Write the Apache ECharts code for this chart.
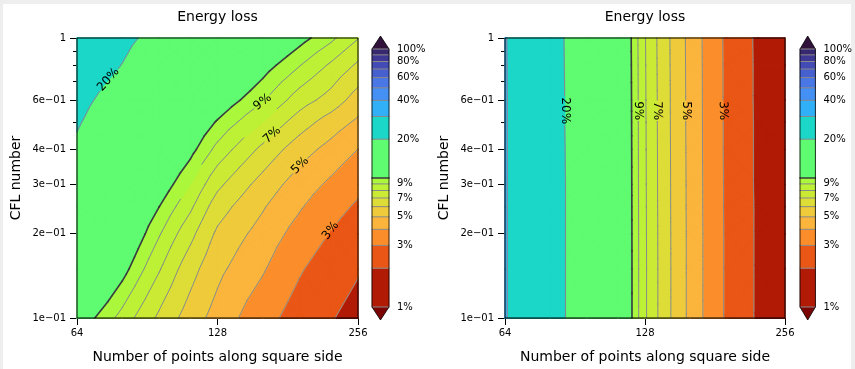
<!DOCTYPE html>
<html>
<head>
<meta charset="utf-8">
<title>Energy loss</title>
<script src="https://cdn.jsdelivr.net/npm/echarts@6.0.0/dist/echarts.min.js"></script>
<style>
  html, body { margin: 0; padding: 0; background: #eeeeee; }
  #paper { position: absolute; left: 3px; top: 4px; width: 848px; height: 365px; background: #ffffff; }
  #main { position: absolute; left: 0; top: 0; width: 855px; height: 369px; }
</style>
</head>
<body>
<div id="paper"></div>
<div id="main"></div>
<script>
// simulation grid: points along square side (x) and CFL number (y)
var pointsPerSide = [64, 80, 96, 112, 128, 160, 192, 224, 256];
var cflNumbers = [0.1, 0.15, 0.2, 0.25, 0.3, 0.4, 0.5, 0.6, 0.8, 1.0];

// energy loss in %, one row per CFL number (lowest CFL first)
var lossLeft = [
  [11.0, 8.64, 6.81, 5.54, 4.62, 3.39, 2.58, 2.06, 1.70],
  [13.8, 10.5, 8.10, 6.40, 5.27, 4.11, 3.10, 2.52, 2.08],
  [15.2, 11.7, 9.10, 7.30, 5.82, 4.63, 3.63, 2.95, 2.49],
  [16.0, 12.4, 10.01, 8.20, 6.49, 5.10, 4.10, 3.37, 2.87],
  [17.4, 13.4, 10.9, 9.00, 7.25, 5.62, 4.54, 3.82, 3.24],
  [19.1, 15.0, 12.3, 10.4, 8.69, 6.75, 5.46, 4.67, 3.99],
  [20.5, 16.1, 13.3, 11.3, 9.87, 8.00, 6.50, 5.55, 4.82],
  [21.7, 17.4, 14.6, 12.5, 11.0, 9.10, 7.48, 6.60, 5.56],
  [23.8, 19.9, 16.6, 14.5, 12.9, 10.6, 9.05, 7.85, 6.84],
  [25.5, 21.3, 18.4, 16.3, 14.6, 12.2, 10.45, 9.25, 8.05]
];
var lossRight = [
  [30.5, 22.1, 17.4, 12.45, 8.15, 4.78, 2.87, 1.89, 1.35],
  [30.5, 22.1, 17.4, 12.45, 8.15, 4.78, 2.87, 1.89, 1.35],
  [30.5, 22.1, 17.4, 12.44, 8.14, 4.78, 2.87, 1.89, 1.35],
  [30.5, 22.1, 17.4, 12.43, 8.13, 4.77, 2.86, 1.89, 1.35],
  [30.5, 22.1, 17.4, 12.42, 8.12, 4.77, 2.86, 1.88, 1.35],
  [30.5, 22.05, 17.35, 12.4, 8.11, 4.76, 2.85, 1.88, 1.34],
  [30.5, 22.0, 17.3, 12.38, 8.10, 4.75, 2.85, 1.88, 1.34],
  [30.5, 22.0, 17.3, 12.36, 8.09, 4.75, 2.84, 1.87, 1.34],
  [30.45, 21.95, 17.25, 12.33, 8.07, 4.74, 2.84, 1.87, 1.34],
  [30.4, 21.9, 17.2, 12.3, 8.05, 4.73, 2.83, 1.86, 1.33]
];

// contour levels (%) and band colours, lowest band (below 1%) first
var levels = [1, 2, 3, 4, 5, 6, 7, 8, 9, 10, 20, 30, 40, 50, 60, 70, 80, 90, 100];
var bandColors = ['#7a0403', '#b11b05', '#ea5615', '#fb8e2b', '#fbb43c', '#efca3a', '#dedd38',
  '#cbea34', '#bcf136', '#aaf73c', '#5ffb70', '#1bd7c8', '#31b0f7', '#4490f5', '#4a77e6',
  '#4760d0', '#434bb4', '#3e3894', '#382870', '#30123b'];
var boldLevel = 10;
var tickPercents = [1, 3, 5, 7, 9, 20, 40, 60, 80, 100];
var xTicks = [64, 128, 256];
var yMajorTicks = [0.1, 0.2, 0.3, 0.4, 0.6, 1];
var yMinorTicks = [0.5, 0.7, 0.8, 0.9];

// inline contour labels: level and the CFL number it sits at
var leftLabelLevels = [20, 9, 7, 5, 3];
var leftLabelCfl = [0.71, 0.59, 0.45, 0.35, 0.205];
var rightLabelLevels = [20, 9, 7, 5, 3];
var rightLabelCfl = [0.55, 0.55, 0.55, 0.55, 0.55];

var FONT = '"DejaVu Sans", sans-serif';
var plotTop = 38, plotH = 280;
var leftPlot = { left: 77, width: 281 };
var rightPlot = { left: 505, width: 280 };
var cbarTop = 49, cbarH = 258, cbarW = 17;

function clip(poly, t, keepAbove) {
  var out = [];
  for (var i = 0; i < poly.length; i++) {
    var a = poly[i], b = poly[(i + 1) % poly.length];
    var ina = keepAbove ? a.s >= t : a.s <= t;
    var inb = keepAbove ? b.s >= t : b.s <= t;
    if (ina) out.push(a);
    if (ina !== inb) {
      var f = (t - a.s) / (b.s - a.s);
      out.push({ p: [a.p[0] + f * (b.p[0] - a.p[0]), a.p[1] + f * (b.p[1] - a.p[1])], s: t });
    }
  }
  return out;
}

function cutOut(seg, c, r) {
  var p = seg[0], q = seg[1];
  var dx = q[0] - p[0], dy = q[1] - p[1];
  var fx = p[0] - c[0], fy = p[1] - c[1];
  var A = dx * dx + dy * dy, B = 2 * (fx * dx + fy * dy), C = fx * fx + fy * fy - r * r;
  var disc = B * B - 4 * A * C;
  if (A === 0 || disc <= 0) return [seg];
  var sq = Math.sqrt(disc), t1 = (-B - sq) / (2 * A), t2 = (-B + sq) / (2 * A);
  if (t2 <= 0 || t1 >= 1) return [seg];
  var out = [];
  if (t1 > 0) out.push([p, [p[0] + t1 * dx, p[1] + t1 * dy]]);
  if (t2 < 1) out.push([[p[0] + t2 * dx, p[1] + t2 * dy], q]);
  return out;
}

function lineStyle(lv) {
  return lv === boldLevel
    ? { stroke: '#3c3c3c', lineWidth: 1.6, lineCap: 'round' }
    : { stroke: '#8a8a8a', lineWidth: 1, lineCap: 'round' };
}

function buildContour(values, labelLevels, labelCfl) {
  return function (params, api) {
    var nx = pointsPerSide.length, ny = cflNumbers.length;
    var nodes = [];
    for (var j = 0; j < ny; j++) {
      nodes.push([]);
      for (var i = 0; i < nx; i++) {
        nodes[j].push({ p: api.coord([pointsPerSide[i], cflNumbers[j]]), s: Math.log(values[j][i]) });
      }
    }
    var tris = [];
    for (j = 0; j < ny - 1; j++) {
      for (i = 0; i < nx - 1; i++) {
        var a = nodes[j][i], b = nodes[j][i + 1], c = nodes[j + 1][i + 1], d = nodes[j + 1][i];
        var m = {
          p: [(a.p[0] + b.p[0] + c.p[0] + d.p[0]) / 4, (a.p[1] + b.p[1] + c.p[1] + d.p[1]) / 4],
          s: (a.s + b.s + c.s + d.s) / 4
        };
        tris.push([a, b, m], [b, c, m], [c, d, m], [d, a, m]);
      }
    }
    var bounds = [-Infinity].concat(levels.map(Math.log), [Infinity]);
    var fills = [];
    tris.forEach(function (t) {
      var lo = Math.min(t[0].s, t[1].s, t[2].s), hi = Math.max(t[0].s, t[1].s, t[2].s);
      for (var k = 0; k < bandColors.length; k++) {
        if (bounds[k + 1] <= lo || bounds[k] > hi) continue;
        var poly = t;
        if (bounds[k] > -Infinity) poly = clip(poly, bounds[k], true);
        if (poly.length >= 3 && bounds[k + 1] < Infinity) poly = clip(poly, bounds[k + 1], false);
        if (poly.length < 3) continue;
        fills.push({
          type: 'polygon',
          shape: { points: poly.map(function (q) { return q.p; }) },
          style: { fill: bandColors[k], stroke: bandColors[k], lineWidth: 1.4, lineJoin: 'round' }
        });
      }
    });

    // contour segments per level
    var segs = {};
    levels.forEach(function (lv) {
      var t = Math.log(lv), list = [];
      tris.forEach(function (tr) {
        var pts = [];
        for (var e = 0; e < 3; e++) {
          var p = tr[e], q = tr[(e + 1) % 3];
          if ((p.s - t) * (q.s - t) < 0) {
            var f = (t - p.s) / (q.s - p.s);
            pts.push([p.p[0] + f * (q.p[0] - p.p[0]), p.p[1] + f * (q.p[1] - p.p[1])]);
          }
        }
        if (pts.length === 2) list.push(pts);
      });
      segs[lv] = list;
    });

    // labels and gaps
    var texts = [], gaps = {};
    labelLevels.forEach(function (lv, n) {
      var y0 = api.coord([pointsPerSide[0], labelCfl[n]])[1];
      var hit = null;
      segs[lv].forEach(function (sg) {
        if (hit) return;
        var ya = sg[0][1], yb = sg[1][1];
        if ((ya - y0) * (yb - y0) <= 0 && ya !== yb) hit = sg;
      });
      if (!hit) return;
      var f = (y0 - hit[0][1]) / (hit[1][1] - hit[0][1]);
      var cx = hit[0][0] + f * (hit[1][0] - hit[0][0]);
      var ang = Math.atan2(-(hit[1][1] - hit[0][1]), hit[1][0] - hit[0][0]);
      if (ang > Math.PI / 2 - 1e-3) ang -= Math.PI;
      if (ang <= -Math.PI / 2 - 1e-3) ang += Math.PI;
      var txt = lv + '%';
      gaps[lv] = { c: [cx, y0], r: txt.length * 4.3 + 2 };
      texts.push({
        type: 'text', x: cx, y: y0, rotation: ang,
        style: { text: txt, x: 0, y: 0, align: 'center', verticalAlign: 'middle', fill: '#000', font: '12px ' + FONT }
      });
    });

    var lines = [];
    levels.forEach(function (lv) {
      segs[lv].forEach(function (sg) {
        var parts = gaps[lv] ? cutOut(sg, gaps[lv].c, gaps[lv].r) : [sg];
        parts.forEach(function (pt) {
          lines.push({
            type: 'line',
            shape: { x1: pt[0][0], y1: pt[0][1], x2: pt[1][0], y2: pt[1][1] },
            style: lineStyle(lv)
          });
        });
      });
    });

    var tl = api.coord([pointsPerSide[0], cflNumbers[ny - 1]]);
    var br = api.coord([pointsPerSide[nx - 1], cflNumbers[0]]);
    var frame = {
      type: 'rect',
      shape: { x: tl[0], y: tl[1], width: br[0] - tl[0], height: br[1] - tl[1] },
      style: { fill: 'none', stroke: '#000', lineWidth: 1 }
    };
    return { type: 'group', children: fills.concat(lines, texts, [frame]) };
  };
}

function colorbarItem(params, api) {
  var children = [];
  var bot = api.coord([0, levels[0]]), top = api.coord([1, levels[levels.length - 1]]);
  var xl = bot[0], xr = top[0], yb = bot[1], yt = top[1], xm = (xl + xr) / 2, ext = 13;
  for (var k = 1; k < levels.length; k++) {
    var p0 = api.coord([0, levels[k - 1]]), p1 = api.coord([1, levels[k]]);
    children.push({
      type: 'rect',
      shape: { x: p0[0], y: p1[1], width: p1[0] - p0[0], height: p0[1] - p1[1] },
      style: { fill: bandColors[k], stroke: bandColors[k], lineWidth: 0.5 }
    });
  }
  children.push({ type: 'polygon', shape: { points: [[xl, yt], [xr, yt], [xm, yt - ext]] },
    style: { fill: bandColors[bandColors.length - 1] } });
  children.push({ type: 'polygon', shape: { points: [[xl, yb], [xr, yb], [xm, yb + ext]] },
    style: { fill: bandColors[0] } });
  levels.forEach(function (lv) {
    var y = api.coord([0, lv])[1];
    children.push({ type: 'line', shape: { x1: xl, y1: y, x2: xr, y2: y }, style: lineStyle(lv) });
  });
  children.push({
    type: 'polygon',
    shape: { points: [[xl, yt], [xm, yt - ext], [xr, yt], [xr, yb], [xm, yb + ext], [xl, yb]] },
    style: { fill: 'none', stroke: '#000', lineWidth: 0.8 }
  });
  return { type: 'group', children: children };
}

function cflLabel(v) {
  if (Math.abs(v - 1) < 1e-9) return '1';
  return Math.round(v * 10) + 'e\u221201';
}

function plotXAxis(grid) {
  return {
    gridIndex: grid, type: 'log', logBase: 2, min: 64, max: 256, position: 'bottom',
    axisLine: { lineStyle: { color: '#000', width: 1 } },
    axisTick: { length: 7, customValues: xTicks, lineStyle: { color: '#000' } },
    axisLabel: { customValues: xTicks, formatter: function (v) { return String(Math.round(v)); },
      color: '#000', fontSize: 10, margin: 10, fontFamily: FONT },
    splitLine: { show: false },
    name: 'Number of points along square side', nameLocation: 'middle', nameGap: 32,
    nameTextStyle: { color: '#000', fontSize: 14, fontFamily: FONT }
  };
}
function plotYAxis(grid) {
  return {
    gridIndex: grid, type: 'log', logBase: 10, min: 0.1, max: 1, position: 'left',
    axisLine: { lineStyle: { color: '#000', width: 1 } },
    axisTick: { length: 7, customValues: yMajorTicks, lineStyle: { color: '#000' } },
    axisLabel: { customValues: yMajorTicks, formatter: cflLabel, color: '#000', fontSize: 10,
      margin: 11, fontFamily: FONT },
    splitLine: { show: false },
    name: 'CFL number', nameLocation: 'middle', nameGap: 54,
    nameTextStyle: { color: '#000', fontSize: 14, fontFamily: FONT }
  };
}
function minorYAxis(grid) {
  return {
    gridIndex: grid, type: 'log', logBase: 10, min: 0.1, max: 1, position: 'left',
    axisLine: { show: false },
    axisTick: { length: 4, customValues: yMinorTicks, lineStyle: { color: '#000' } },
    axisLabel: { show: false },
    splitLine: { show: false }
  };
}
function cbarYAxis(grid) {
  return {
    gridIndex: grid, type: 'log', logBase: 10, min: 1, max: 100, position: 'right',
    axisLine: { show: false },
    axisTick: { length: 4, customValues: tickPercents, lineStyle: { color: '#000' } },
    axisLabel: { customValues: tickPercents, formatter: function (v) { return Math.round(v) + '%'; },
      color: '#000', fontSize: 10, margin: 8, fontFamily: FONT },
    splitLine: { show: false }
  };
}

var chart = echarts.init(document.getElementById('main'), null, { renderer: 'canvas' });
var option = {
  animation: false,
  backgroundColor: 'transparent',
  textStyle: { fontFamily: FONT },
  graphic: [
    { type: 'text', x: leftPlot.left + leftPlot.width / 2, y: 17.5,
      style: { text: 'Energy loss', align: 'center', verticalAlign: 'middle', fill: '#000', font: '14px ' + FONT } },
    { type: 'text', x: rightPlot.left + rightPlot.width / 2, y: 17.5,
      style: { text: 'Energy loss', align: 'center', verticalAlign: 'middle', fill: '#000', font: '14px ' + FONT } }
  ],
  grid: [
    { left: leftPlot.left, top: plotTop, width: leftPlot.width, height: plotH },
    { left: rightPlot.left, top: plotTop, width: rightPlot.width, height: plotH },
    { left: 372, top: cbarTop, width: cbarW, height: cbarH },
    { left: 800, top: cbarTop, width: cbarW, height: cbarH }
  ],
  xAxis: [
    plotXAxis(0), plotXAxis(1),
    { gridIndex: 2, type: 'value', min: 0, max: 1, show: false },
    { gridIndex: 3, type: 'value', min: 0, max: 1, show: false }
  ],
  yAxis: [
    plotYAxis(0), minorYAxis(0), plotYAxis(1), minorYAxis(1), cbarYAxis(2), cbarYAxis(3)
  ],
  series: [
    { type: 'custom', xAxisIndex: 0, yAxisIndex: 0, data: [[64, 0.1]], silent: true,
      renderItem: buildContour(lossLeft, leftLabelLevels, leftLabelCfl) },
    { type: 'custom', xAxisIndex: 1, yAxisIndex: 2, data: [[64, 0.1]], silent: true,
      renderItem: buildContour(lossRight, rightLabelLevels, rightLabelCfl) },
    { type: 'custom', xAxisIndex: 2, yAxisIndex: 4, data: [[0, 1]], silent: true, renderItem: colorbarItem },
    { type: 'custom', xAxisIndex: 3, yAxisIndex: 5, data: [[0, 1]], silent: true, renderItem: colorbarItem }
  ]
};
chart.setOption(option);
</script>
</body>
</html>
